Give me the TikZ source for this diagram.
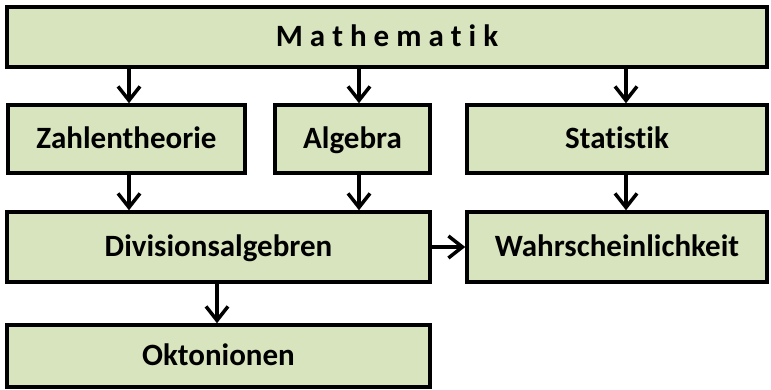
\documentclass[tikz,border=0pt]{standalone}
\usepackage{fontspec}
\setmainfont[Ligatures=CommonOff]{Carlito}
\usetikzlibrary{arrows.meta}
\definecolor{boxgreen}{HTML}{D7E4BD}
\tikzset{
  fach/.style={draw=black,line width=3.5pt,fill=boxgreen,rectangle,
    inner sep=0pt,text height=20pt,text depth=0pt,
    font=\fontsize{31}{36}\selectfont\bfseries},
  pfeil/.style={line width=3.5pt,-{Straight Barb[length=14pt,width=22pt,line width=3.5pt]}}
}
\begin{document}
\begin{tikzpicture}[x=1pt,y=1pt]
  \useasboundingbox (0,0) rectangle (771,390);
  \node[fach,minimum width=760pt,minimum height=60pt] (math) at (387,353)
    {M a t h e m a t i k};
  \node[fach,minimum width=237pt,minimum height=68pt] (zahl) at (126.5,251) {Zahlentheorie};
  \node[fach,minimum width=155pt,minimum height=68pt] (alg) at (352.5,251) {Algebra};
  \node[fach,minimum width=300pt,minimum height=68pt] (stat) at (617,251) {Statistik};
  \node[fach,minimum width=423pt,minimum height=70pt] (div) at (218.5,143) {Divisionsalgebren};
  \node[fach,minimum width=300pt,minimum height=70pt] (wahr) at (617,143) {Wahrscheinlichkeit};
  \node[fach,minimum width=423pt,minimum height=62pt] (okt) at (218.5,34) {Oktonionen};
  % Pfeile
  \draw[pfeil] ([xshift=2.5pt]zahl.north |- math.south) -- ([xshift=2.5pt]zahl.north);
  \draw[pfeil] ([xshift=6.5pt]alg.north |- math.south) -- ([xshift=6.5pt]alg.north);
  \draw[pfeil] ([xshift=9pt]stat.north |- math.south) -- ([xshift=9pt]stat.north);
  \draw[pfeil] ([xshift=2.5pt]zahl.south) -- ([xshift=2.5pt]zahl.south |- div.north);
  \draw[pfeil] ([xshift=6.5pt]alg.south) -- ([xshift=6.5pt]alg.south |- div.north);
  \draw[pfeil] ([xshift=9pt]stat.south) -- ([xshift=9pt]stat.south |- wahr.north);
  \draw[pfeil] (div.east) -- (div.east -| wahr.west);
  \draw[pfeil] ([xshift=-1.5pt]div.south) -- ([xshift=-1.5pt]div.south |- okt.north);
\end{tikzpicture}
\end{document}
